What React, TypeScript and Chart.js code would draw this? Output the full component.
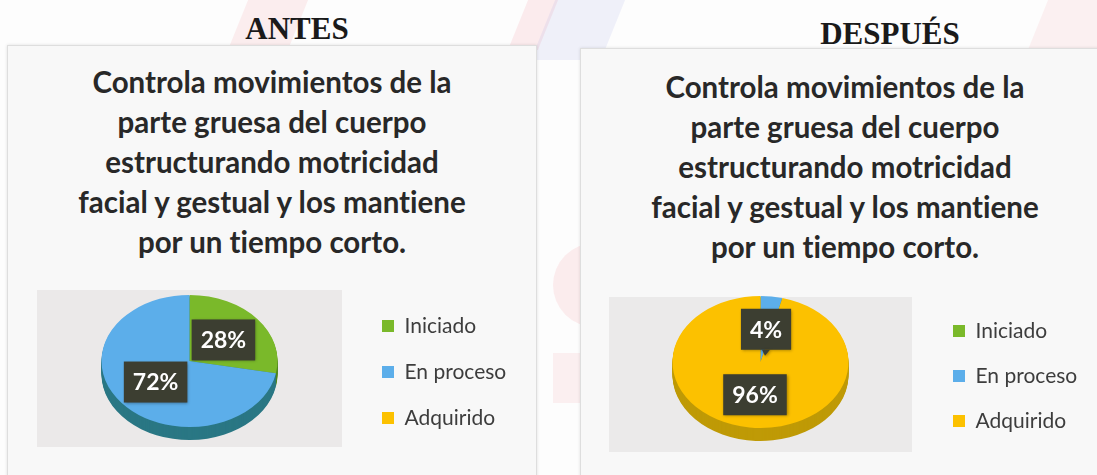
import React, { useEffect, useRef } from "react";
import { Chart, registerables } from "chart.js";

Chart.register(...registerables);

// ---------- data ----------
const categories = ["Iniciado", "En proceso", "Adquirido"];
const antesValues = [28, 72, 0];
const despuesValues = [0, 4, 96];
const panelHeadings = ["ANTES", "DESPUÉS"];
const questionLines = [
  "Controla movimientos de la",
  "parte gruesa del cuerpo",
  "estructurando motricidad",
  "facial y gestual y los mantiene",
  "por un tiempo corto.",
];

// ---------- styles ----------
const sliceColors = ["#7ab92a", "#5caeea", "#fcc100"];
const sideColors = ["#4f861d", "#2a7784", "#bf9a06"];
const LEGEND_FONT = 21;
const LEGEND_BOX = 12;

const pie3d = {
  id: "pie3d",
  beforeDatasetsDraw(chart: any, _args: any, opts: any) {
    const meta = chart.getDatasetMeta(0);
    const arcs = meta.data;
    const ctx = chart.ctx;
    ctx.save();
    if (!arcs.length) return;
    const p0 = arcs[0].getProps(["x", "y"], true);
    const sy = opts.scaleY;
    ctx.translate(p0.x, p0.y);
    ctx.scale(1, sy);
    ctx.translate(-p0.x, -p0.y);
    const side = chart.data.datasets[0].sideColor;
    for (let k = opts.depth; k >= 1; k--) {
      const dy = k / sy;
      arcs.forEach((arc: any, i: number) => {
        const p = arc.getProps(["x", "y", "startAngle", "endAngle", "outerRadius"], true);
        if (p.endAngle - p.startAngle <= 0.0001) return;
        ctx.beginPath();
        ctx.moveTo(p.x, p.y + dy);
        ctx.arc(p.x, p.y + dy, p.outerRadius, p.startAngle, p.endAngle);
        ctx.closePath();
        ctx.fillStyle = side[i];
        ctx.fill();
      });
    }
  },
  afterDatasetsDraw(chart: any, _args: any, opts: any) {
    const ctx = chart.ctx;
    ctx.restore();
    const meta = chart.getDatasetMeta(0);
    const values = chart.data.datasets[0].data;
    const sy = opts.scaleY;
    meta.data.forEach((arc: any, i: number) => {
      const v = values[i];
      if (!v) return;
      const p = arc.getProps(["x", "y", "startAngle", "endAngle", "outerRadius"], true);
      const mid = (p.startAngle + p.endAngle) / 2;
      const r = p.outerRadius * opts.labelRadius;
      const x = p.x + Math.cos(mid) * r;
      const y = p.y + Math.sin(mid) * r * sy;
      const text = v + "%";
      ctx.save();
      ctx.font = "bold 23px Lato";
      const tw = ctx.measureText(text).width;
      const bw = tw + 18;
      const bh = 41;
      ctx.shadowColor = "rgba(0,0,0,0.35)";
      ctx.shadowBlur = 3;
      ctx.shadowOffsetX = 1;
      ctx.shadowOffsetY = 1;
      ctx.fillStyle = "#3c3e31";
      ctx.fillRect(x - bw / 2, y - bh / 2, bw, bh);
      if (v < 10) {
        ctx.beginPath();
        ctx.moveTo(x - 4, y + bh / 2);
        ctx.lineTo(x + 4, y + bh / 2);
        ctx.lineTo(x - 1, y + bh / 2 + 6);
        ctx.closePath();
        ctx.fill();
      }
      ctx.shadowColor = "transparent";
      ctx.fillStyle = "#ffffff";
      ctx.textAlign = "center";
      ctx.textBaseline = "middle";
      ctx.fillText(text, x, y + 1);
      ctx.restore();
    });
  },
};

type PieProps = {
  values: number[];
  left: number;
  top: number;
  width: number;
  height: number;
  padTop: number;
  padBottom: number;
  legendLeft: number; // legend box left edge, canvas px
  legendPadding: number;
};

function legendNaturalWidth(canvas: HTMLCanvasElement, padding: number) {
  const ctx = canvas.getContext("2d")!;
  ctx.save();
  ctx.font = `${LEGEND_FONT}px Lato`;
  let maxW = 0;
  categories.forEach((c) => {
    maxW = Math.max(maxW, ctx.measureText(c).width);
  });
  ctx.restore();
  return padding + LEGEND_BOX + LEGEND_FONT / 2 + maxW + 10;
}

function PieChart(props: PieProps) {
  const ref = useRef<HTMLCanvasElement | null>(null);
  useEffect(() => {
    if (!ref.current) return;
    const canvas = ref.current;
    const padRight = () =>
      Math.max(0, props.width - props.legendLeft - legendNaturalWidth(canvas, props.legendPadding) - 1);
    const chart = new Chart(canvas, {
      type: "pie",
      data: {
        labels: categories,
        datasets: [
          {
            data: props.values,
            backgroundColor: sliceColors,
            borderWidth: 0,
            radius: 88,
            sideColor: sideColors,
          } as any,
        ],
      },
      options: {
        animation: false,
        responsive: false,
        events: [],
        layout: {
          padding: { top: props.padTop, bottom: props.padBottom, left: 0, right: padRight() },
        },
        plugins: {
          legend: {
            position: "right",
            align: "end",
            labels: {
              boxWidth: LEGEND_BOX,
              boxHeight: LEGEND_BOX,
              padding: props.legendPadding,
              color: "#3d3d3d",
              font: { family: "Lato", size: LEGEND_FONT },
            },
          },
          tooltip: { enabled: false },
          pie3d: { scaleY: 0.75, depth: 13, labelRadius: 0.5 },
        } as any,
      },
      plugins: [pie3d],
    });
    let alive = true;
    (document as any).fonts?.ready?.then(() => {
      if (!alive) return;
      (chart.options.layout as any).padding.right = padRight();
      chart.update();
    });
    return () => {
      alive = false;
      chart.destroy();
    };
  }, []);
  return (
    <canvas
      ref={ref}
      width={props.width}
      height={props.height}
      style={{ position: "absolute", left: props.left, top: props.top, width: props.width, height: props.height }}
    />
  );
}

function Heading(props: { text: string; cx: number; top: number }) {
  return (
    <div
      style={{
        position: "absolute",
        left: props.cx - 150,
        width: 300,
        top: props.top,
        textAlign: "center",
        fontFamily: "'Liberation Serif', 'Times New Roman', serif",
        fontWeight: "bold",
        fontSize: 31,
        lineHeight: "37px",
        color: "#1a1a1a",
      }}
    >
      {props.text}
    </div>
  );
}

function Question(props: { cx: number; top: number }) {
  return (
    <div
      style={{
        position: "absolute",
        left: props.cx - 250,
        width: 500,
        top: props.top,
        textAlign: "center",
        fontFamily: "Lato, 'Open Sans', sans-serif",
        fontWeight: "bold",
        fontSize: 29.5,
        lineHeight: "40px",
        color: "#282828",
        fontVariantLigatures: "none",
        fontFeatureSettings: '"liga" 0, "clig" 0',
      }}
    >
      {questionLines.map((l, i) => (
        <div key={i}>{l}</div>
      ))}
    </div>
  );
}

export default function App() {
  return (
    <div
      style={{
        position: "absolute",
        left: 0,
        top: 0,
        width: 1097,
        height: 475,
        overflow: "hidden",
        background: "#fdfdfd",
      }}
    >
      {/* faint watermark of the scanned page */}
      <div style={{ position: "absolute", left: 240, top: -10, width: 60, height: 60, background: "rgba(238,130,140,0.13)", transform: "skewX(-22deg)" }} />
      <div style={{ position: "absolute", left: 520, top: -10, width: 30, height: 60, background: "rgba(238,130,140,0.14)", transform: "skewX(-22deg)" }} />
      <div style={{ position: "absolute", left: 545, top: -10, width: 70, height: 70, background: "rgba(140,150,225,0.12)", transform: "skewX(-22deg)" }} />
      <div style={{ position: "absolute", left: 1040, top: -10, width: 70, height: 60, background: "rgba(238,130,140,0.1)", transform: "skewX(-22deg)" }} />
      <div style={{ position: "absolute", left: 553, top: 243, width: 60, height: 84, borderRadius: "42px 0 0 42px", background: "rgba(240,140,150,0.15)" }} />
      <div style={{ position: "absolute", left: 553, top: 353, width: 40, height: 50, background: "rgba(240,140,150,0.12)" }} />

      {/* cards */}
      <div
        style={{
          position: "absolute",
          left: 7,
          top: 45,
          width: 528,
          height: 450,
          background: "#f8f8f8",
          border: "1px solid #dedede",
          boxShadow: "0 0 3px rgba(0,0,0,0.12)",
        }}
      />
      <div
        style={{
          position: "absolute",
          left: 580,
          top: 48,
          width: 540,
          height: 450,
          background: "#f8f8f8",
          border: "1px solid #dedede",
          boxShadow: "0 0 3px rgba(0,0,0,0.12)",
        }}
      />
      {/* plot-area backgrounds */}
      <div style={{ position: "absolute", left: 37, top: 290, width: 305, height: 157, background: "#ebe9e9" }} />
      <div style={{ position: "absolute", left: 609, top: 297, width: 303, height: 155, background: "#ebeaea" }} />

      <Heading text={panelHeadings[0]} cx={297} top={10} />
      <Heading text={panelHeadings[1]} cx={890} top={15} />
      <Question cx={272} top={61.6} />
      <Question cx={845} top={66.6} />

      <PieChart values={antesValues} left={22} top={255} width={540} height={215} padTop={13.5} padBottom={16.5} legendLeft={334} legendPadding={25} />
      <PieChart values={despuesValues} left={592} top={255} width={505} height={215} padTop={13.5} padBottom={14.5} legendLeft={336} legendPadding={24} />
    </div>
  );
}
